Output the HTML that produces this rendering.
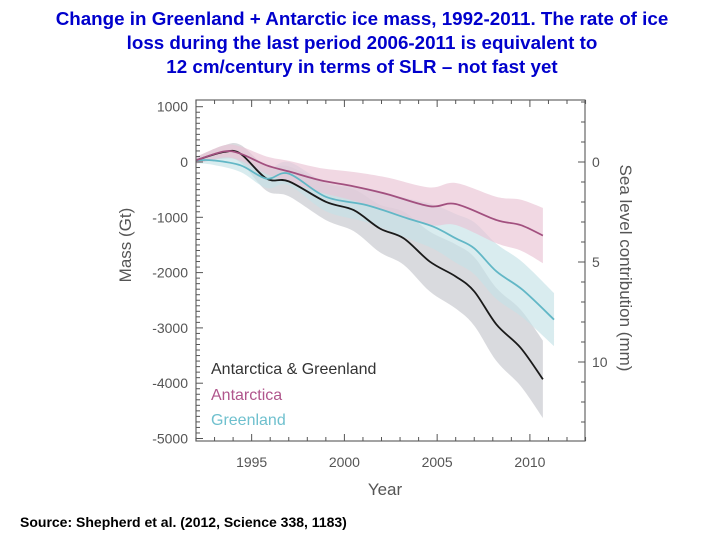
<!DOCTYPE html>
<html><head><meta charset="utf-8"><style>
body{margin:0;background:#fff;width:720px;height:540px;overflow:hidden;font-family:"Liberation Sans",sans-serif}
.t{position:absolute;left:0;width:724px;text-align:center;color:#0000cc;font-weight:bold;font-size:18.8px;line-height:24px}
</style></head><body>
<div class="t" style="top:7px">Change in Greenland + Antarctic ice mass, 1992-2011. The rate of ice<br>loss during the last period 2006-2011 is equivalent to<br>12 cm/century in terms of SLR – not fast yet</div>
<div style="position:absolute;left:20px;top:514px;font-size:14px;font-weight:bold;color:#000">Source: Shepherd et al. (2012, Science 338, 1183)</div>
<svg id="c" width="720" height="540" style="position:absolute;left:0;top:0"></svg>
<script>
const years=[1992,1993.5,1994.4,1995.8,1997,1998.7,2000.5,2002.3,2004.6,2006,2008.2,2009.5,2010.7];
const antarctica=[30,190,150,-60,-170,-330,-440,-580,-800,-760,-1050,-1140,-1330];
const antErr=[60,110,130,160,190,220,260,300,340,380,420,460,500];
const yearsBoth=[1992,1993.5,1994.4,1995.8,1997,1999,2000.5,2001.9,2003.2,2004.6,2006,2007,2008.2,2009.5,2010.7];
const both=[30,180,150,-300,-350,-720,-870,-1200,-1380,-1800,-2070,-2340,-2940,-3360,-3930];
const bothErr=[60,120,160,220,270,330,380,430,480,540,580,620,660,690,700];
const yearsGr=[1992,1992.9,1994.4,1995.8,1997,1999,2001.2,2003.4,2004.8,2006,2007,2008.2,2009.6,2011.3];
const greenland=[30,30,-60,-300,-210,-630,-780,-1020,-1170,-1380,-1560,-1980,-2310,-2850];
const grErr=[50,80,120,170,210,260,310,360,400,440,470,500,500,480];
const massTicks=[1000,0,-1000,-2000,-3000,-4000,-5000];
const yearTicks=[1995,2000,2005,2010];
const slrTicks=[0,5,10];
const X=y=>196+(y-1992)*18.55;
const Y=v=>162-v*0.0553;
const S=mm=>162+mm*20;
const svg=document.getElementById('c');const NS='http://www.w3.org/2000/svg';
function mk(t,a,p){const e=document.createElementNS(NS,t);for(const k in a)e.setAttribute(k,a[k]);(p||svg).appendChild(e);return e;}
function smooth(pts){let d='M'+pts[0][0]+','+pts[0][1];for(let i=1;i<pts.length;i++){const p0=pts[i-2]||pts[i-1],p1=pts[i-1],p2=pts[i],p3=pts[i+1]||p2;d+=' C'+(p1[0]+(p2[0]-p0[0])/6)+','+(p1[1]+(p2[1]-p0[1])/6)+' '+(p2[0]-(p3[0]-p1[0])/6)+','+(p2[1]-(p3[1]-p1[1])/6)+' '+p2[0]+','+p2[1];}return d;}
function band(xs,vs,es,fill,name){const up=xs.map((x,i)=>[X(x),Y(vs[i]+es[i])]);const lo=xs.map((x,i)=>[X(x),Y(vs[i]-es[i])]).reverse();
 let d=smooth(up)+' L'+lo[0][0]+','+lo[0][1]+smooth(lo).replace(/^M[^ ]+/,'')+'Z';
 const e=mk('path',{d:d,fill:fill,opacity:0.65});
 
 }
function line(xs,vs,col,name){const e=mk('path',{d:smooth(xs.map((x,i)=>[X(x),Y(vs[i])])),fill:'none',stroke:col,'stroke-width':1.8});
 
 }
band(yearsBoth,both,bothErr,'#c4c6cc','both-uncertainty');
band(yearsGr,greenland,grErr,'#c4e2e6','greenland-uncertainty');
band(years,antarctica,antErr,'#e9c3d4','antarctica-uncertainty');
line(yearsBoth,both,'#1a1a1a','both-line');
line(yearsGr,greenland,'#62b7c6','greenland-line');
line(years,antarctica,'#a2507f','antarctica-line');
const fr=mk('rect',{x:196,y:100,width:389,height:341,fill:'none',stroke:'#666','stroke-width':1.2});


for(let v=-5000;v<=1000;v+=100){const y=Y(v);if(y<100||y>441)continue;const L=v%1000===0?7:4;mk('line',{x1:196,x2:196+L,y1:y,y2:y,stroke:'#555'});}
for(let yr=1992;yr<=2013;yr++){const L=yr%5===0?7:4;mk('line',{x1:X(yr),x2:X(yr),y1:441,y2:441-L,stroke:'#555'});mk('line',{x1:X(yr),x2:X(yr),y1:100,y2:100+L,stroke:'#555'});}
for(let m=-3;m<=13;m++){const y=S(m);if(y<100||y>441)continue;const L=m%5===0?7:4;mk('line',{x1:585,x2:585-L,y1:y,y2:y,stroke:'#555'});}
massTicks.forEach(v=>{const t=mk('text',{x:188,y:Y(v)+5,'text-anchor':'end','font-size':14,fill:'#555'});t.textContent=v;
 
 });
yearTicks.forEach(v=>{const t=mk('text',{x:X(v),y:467,'text-anchor':'middle','font-size':14,fill:'#555'});t.textContent=v;
 
 });
slrTicks.forEach(v=>{const t=mk('text',{x:592,y:S(v)+5,'font-size':14,fill:'#555'});t.textContent=v;
 
 });
let t=mk('text',{x:385,y:495,'text-anchor':'middle','font-size':17,fill:'#555'});t.textContent='Year';


t=mk('text',{x:131,y:245,'text-anchor':'middle','font-size':17,fill:'#555',transform:'rotate(-90 131 245)'});t.textContent='Mass (Gt)';


t=mk('text',{x:620,y:268,'text-anchor':'middle','font-size':17,fill:'#555',transform:'rotate(90 620 268)'});t.textContent='Sea level contribution (mm)';


[['Antarctica & Greenland','#333',374],['Antarctica','#b0568c',400],['Greenland','#6fc0ce',425]].forEach(l=>{const e=mk('text',{x:211,y:l[2],'font-size':16,fill:l[1]});e.textContent=l[0];
 
 });
</script>
</body></html>
